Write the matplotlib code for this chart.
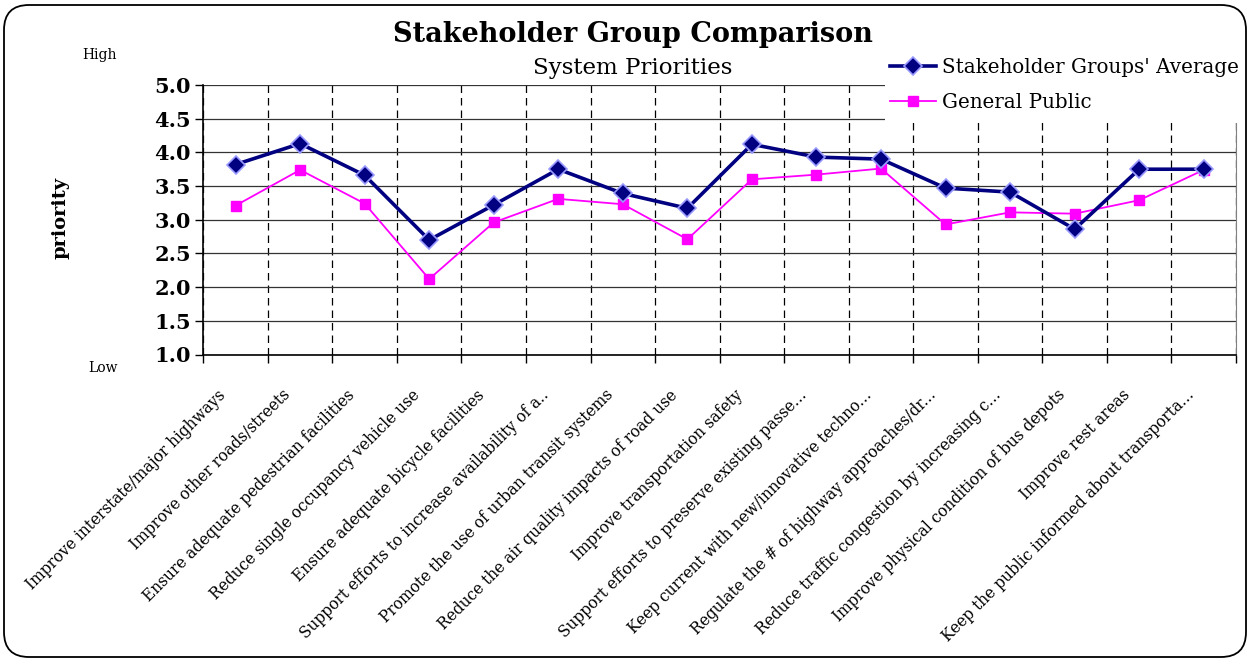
import matplotlib
matplotlib.use("Agg")
import matplotlib.pyplot as plt
from matplotlib.patches import FancyBboxPatch, Rectangle
from matplotlib.transforms import ScaledTranslation

# categories (as they appear, truncated the same way)
categories = [
    "Improve interstate/major highways",
    "Improve other roads/streets",
    "Ensure adequate pedestrian facilities",
    "Reduce single occupancy vehicle use",
    "Ensure adequate bicycle facilities",
    "Support efforts to increase availability of a..",
    "Promote the use of urban transit systems",
    "Reduce the air quality impacts of road use",
    "Improve transportation safety",
    "Support efforts to preserve existing passe...",
    "Keep current with new/innovative techno...",
    "Regulate the # of highway approaches/dr...",
    "Reduce traffic congestion by increasing c...",
    "Improve physical condition of bus depots",
    "Improve rest areas",
    "Keep the public informed about transporta...",
]

stakeholder_avg = [3.82, 4.13, 3.66, 2.70, 3.22, 3.75, 3.39, 3.17,
                   4.12, 3.93, 3.90, 3.47, 3.41, 2.86, 3.75, 3.75]
general_public = [3.21, 3.74, 3.24, 2.12, 2.96, 3.31, 3.23, 2.71,
                  3.60, 3.67, 3.76, 2.93, 3.11, 3.09, 3.29, 3.74]

yticks = [1.0, 1.5, 2.0, 2.5, 3.0, 3.5, 4.0, 4.5, 5.0]

W, H = 1247, 667
serif = "DejaVu Serif"

fig = plt.figure(figsize=(W / 100, H / 100), dpi=100)
ax = fig.add_axes([203.3 / W, 1 - 354.5 / H, (1236 - 203.3) / W, 269.5 / H])

x = [i + 0.5 for i in range(len(categories))]
ax.plot(x, stakeholder_avg, color="#000080", lw=2.6, marker="D", ms=9,
        markerfacecolor="#000080", markeredgecolor="#9999ff", markeredgewidth=1.2,
        label="Stakeholder Groups' Average", zorder=5)
ax.plot(x, general_public, color="#ff00ff", lw=1.3, marker="s", ms=7.5,
        markerfacecolor="#ff00ff", markeredgecolor="#ff00ff",
        label="General Public", zorder=4)

ax.set_xlim(0, len(categories))
ax.set_ylim(1.0, 5.0)

# horizontal solid grid
ax.set_yticks(yticks)
ax.set_yticklabels([f"{v:.1f}" for v in yticks], fontsize=15, fontweight="bold",
                   family=serif)
ax.yaxis.grid(True, color="#333333", lw=0.9, ls="-")
ax.tick_params(axis="y", length=6, width=1, direction="out", pad=3)

# vertical dashed lines at category boundaries
ax.set_xticks(range(len(categories) + 1))
ax.set_xticklabels([])
ax.xaxis.grid(True, color="black", lw=0.9, ls=(0, (6, 4)))
ax.tick_params(axis="x", which="major", length=6, width=1, direction="out")

ax.set_xticks(x, minor=True)
ax.set_xticklabels(categories, minor=True, rotation=45, ha="right", va="top",
                   rotation_mode="anchor", fontsize=11.2, family=serif)
ax.tick_params(axis="x", which="minor", length=0, pad=23)
shift = ScaledTranslation(-18 / 100, 0, fig.dpi_scale_trans)
for lbl in ax.get_xticklabels(minor=True):
    lbl.set_transform(lbl.get_transform() + shift)

ax.set_axisbelow(True)
ax.spines["top"].set_visible(False)
ax.spines["right"].set_color("#808080")
ax.spines["left"].set_linewidth(1.2)
ax.spines["bottom"].set_linewidth(1.2)

# white block where the legend sits over the plot
fig.patches.append(Rectangle((885 / W, 1 - 123 / H), (W - 885) / W, 110 / H,
                             transform=fig.transFigure, facecolor="white",
                             edgecolor="none", zorder=1))

leg = fig.legend(loc="upper left", bbox_to_anchor=(890 / W, 1 - 58 / H),
                 frameon=False, prop={"family": serif, "size": 14.3},
                 handlelength=2.3, handletextpad=0.3, labelspacing=0.8,
                 borderpad=0, borderaxespad=0)
leg.set_zorder(6)

# titles and side text
fig.text(633 / W, 1 - 35 / H, "Stakeholder Group Comparison", ha="center",
         va="center", fontsize=19.5, fontweight="bold", family=serif)
fig.text(633 / W, 1 - 68 / H, "System Priorities", ha="center", va="center",
         fontsize=16.5, family=serif)
fig.text(100 / W, 1 - 55 / H, "High", ha="center", va="center", fontsize=10,
         family=serif)
fig.text(103 / W, 1 - 368 / H, "Low", ha="center", va="center", fontsize=10,
         family=serif)
fig.text(60 / W, 1 - 218 / H, "priority", ha="center", va="center", rotation=90,
         fontsize=14, fontweight="bold", family=serif)

# rounded outer border
fig.patches.append(FancyBboxPatch((4 / W, 10 / H), (W - 5) / W, (H - 15) / H,
                                  boxstyle="round,pad=0,rounding_size=0.02",
                                  transform=fig.transFigure, facecolor="none",
                                  edgecolor="black", lw=1.3, zorder=2,
                                  mutation_aspect=W / H))

fig.savefig("out.png", dpi=100)
